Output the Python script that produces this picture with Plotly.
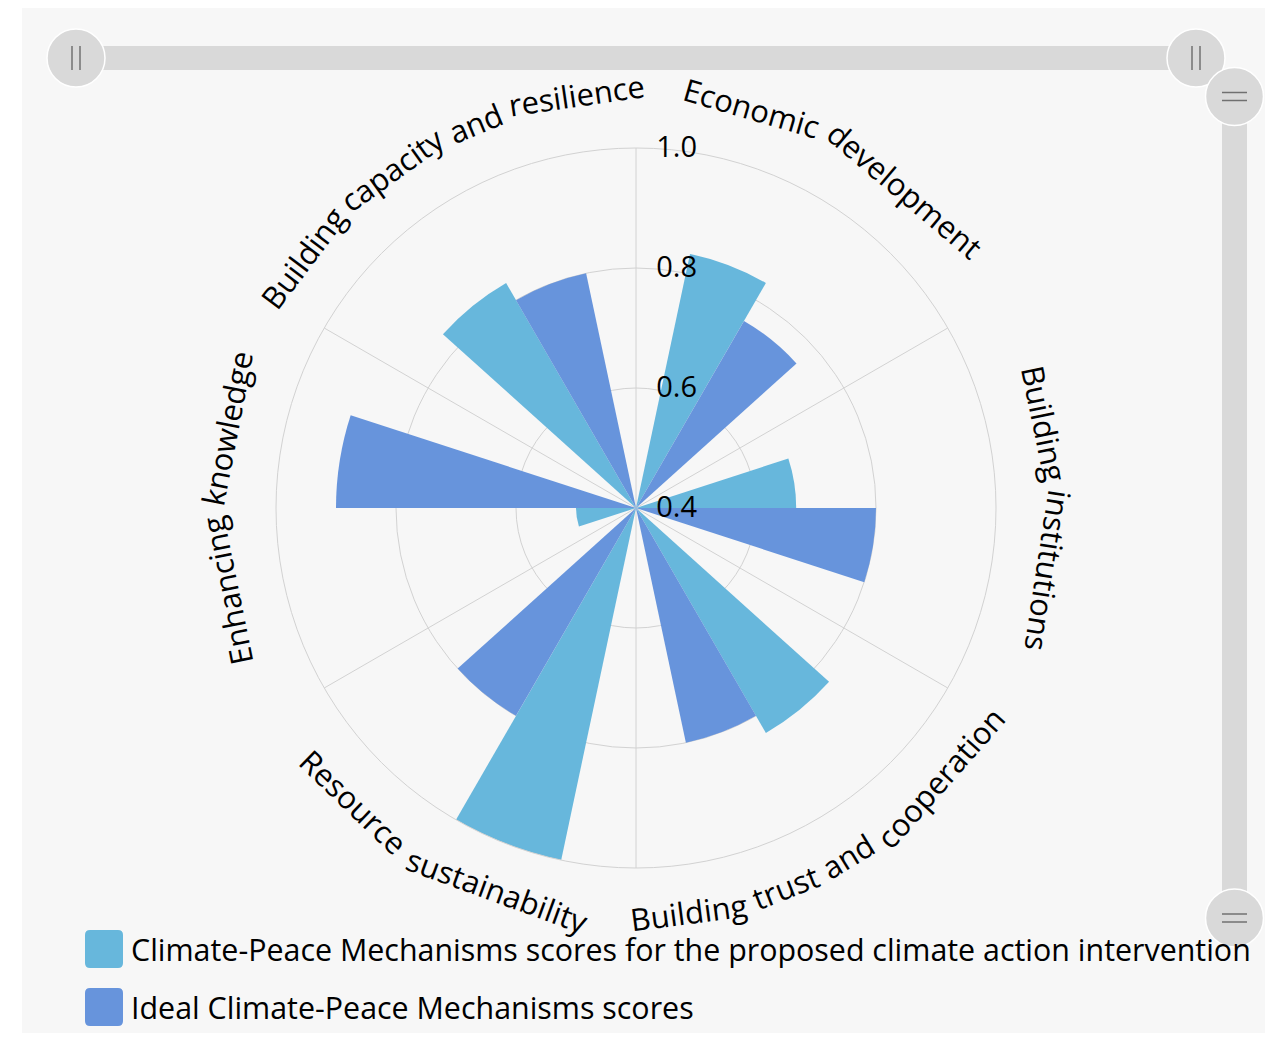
import math
import plotly.graph_objects as go

# ---------------- data ----------------
categories = [
    "Economic development",
    "Building institutions",
    "Building trust and cooperation",
    "Resource sustainability",
    "Enhancing knowledge",
    "Building capacity and resilience",
]
series_names = [
    "Climate-Peace Mechanisms scores for the proposed climate action intervention",
    "Ideal Climate-Peace Mechanisms scores",
]
proposed_scores = [0.833, 0.667, 0.833, 1.0, 0.5, 0.833]
ideal_scores = [0.76, 0.8, 0.8, 0.8, 0.9, 0.8]
radial_tickvals = [0.4, 0.6, 0.8, 1.0]
radial_ticktext = ["0.4", "0.6", "0.8", "1.0"]
series_colors = ["#67b7dc", "#6794dc"]

# ---------------- geometry / style ----------------
FONT = "Open Sans"
TEXT_COLOR = "#000000"
GRID = "#d2d2d2"
PANEL = "#f7f7f7"
SCROLL = "#d9d9d9"
GRIP_LINE = "#707070"

PAGE_OFF = 8
FIG_W, FIG_H = 1257, 1025


def fx(X):
    return (X - PAGE_OFF) / FIG_W


def fy(Y):
    return 1 - (Y - PAGE_OFF) / FIG_H


CX, CY, R = 636, 508, 360

n = len(categories)
sector = 360 / n
cell_start, cell_end = 0.2, 0.8
bar_w = sector * (cell_end - cell_start) / 2


def thetas(k):
    return [i * sector + sector * cell_start + bar_w * (k + 0.5) for i in range(n)]


fig = go.Figure()
for k, (name, vals) in enumerate(zip(series_names, [proposed_scores, ideal_scores])):
    fig.add_trace(go.Barpolar(
        r=vals,
        theta=thetas(k),
        width=[bar_w] * n,
        name=name,
        marker=dict(color=series_colors[k], line=dict(width=0)),
        customdata=categories,
        hovertemplate="%{customdata}<br>%{r}<extra></extra>",
        showlegend=False,
    ))

# ---------------- curved category labels (word by word) ----------------
# Open Sans advance widths (units per em = 2048)
ADV = {
    " ": 532, "a": 1139, "b": 1255, "c": 975, "d": 1255, "e": 1149, "f": 694,
    "g": 1122, "h": 1257, "i": 518, "j": 518, "k": 1075, "l": 518, "m": 1905,
    "n": 1257, "o": 1237, "p": 1255, "q": 1255, "r": 836, "s": 977, "t": 723,
    "u": 1257, "v": 1026, "w": 1593, "x": 1073, "y": 1028, "z": 937,
    "B": 1315, "C": 1298, "E": 1126, "R": 1300, "I": 598, "M": 1849, "P": 1245,
    "-": 659,
}
LABEL_SIZE = 31


def tw(s, size):
    return sum(ADV.get(c, 1150) for c in s) / 2048 * size


annotations = []
TOP_RB, BOT_RB = 405, 419
mid_off = 0.388 * LABEL_SIZE
for i, cat in enumerate(categories):
    c = i * sector + sector / 2
    bottom = 90 < c < 270
    words = cat.split(" ")
    ws = [tw(w, LABEL_SIZE) for w in words]
    sp = tw(" ", LABEL_SIZE)
    total = sum(ws) + sp * (len(words) - 1)
    rb = BOT_RB if bottom else TOP_RB
    rc = rb - mid_off if bottom else rb + mid_off
    ra = rb - 9 if bottom else rb + 9   # radius used to convert lengths to angles
    cum = 0
    for w, wl in zip(words, ws):
        off = cum + wl / 2 - total / 2
        dtheta = math.degrees(off / ra)
        th = c - dtheta if bottom else c + dtheta
        X = CX + rc * math.sin(math.radians(th))
        Y = CY - rc * math.cos(math.radians(th))
        ang = th - 180 if bottom else th
        ang = (ang + 180) % 360 - 180
        annotations.append(dict(
            x=fx(X), y=fy(Y), xref="paper", yref="paper", text=w,
            textangle=ang, showarrow=False, xanchor="center", yanchor="middle",
            font=dict(family=FONT, size=LABEL_SIZE, color=TEXT_COLOR),
        ))
        cum += wl + sp

# ---------------- legend (custom, large swatches) ----------------
shapes = []


def rrect(x0, y0, x1, y1, rad, color):
    p = (f"M {fx(x0 + rad)},{fy(y0)} L {fx(x1 - rad)},{fy(y0)} "
         f"Q {fx(x1)},{fy(y0)} {fx(x1)},{fy(y0 + rad)} L {fx(x1)},{fy(y1 - rad)} "
         f"Q {fx(x1)},{fy(y1)} {fx(x1 - rad)},{fy(y1)} L {fx(x0 + rad)},{fy(y1)} "
         f"Q {fx(x0)},{fy(y1)} {fx(x0)},{fy(y1 - rad)} L {fx(x0)},{fy(y0 + rad)} "
         f"Q {fx(x0)},{fy(y0)} {fx(x0 + rad)},{fy(y0)} Z")
    return dict(type="path", path=p, xref="paper", yref="paper",
                fillcolor=color, line=dict(width=0), layer="above")


# background panel
shapes.append(dict(type="rect", xref="paper", yref="paper", x0=fx(22), x1=fx(1281),
                   y0=fy(4), y1=fy(1049), fillcolor=PANEL, line=dict(width=0), layer="below"))

legend_rows = [949, 1007]
for k, name in enumerate(series_names):
    yc = legend_rows[k]
    shapes.append(rrect(85, yc - 19, 123, yc + 19, 5, series_colors[k]))
    annotations.append(dict(
        x=fx(129), y=fy(yc), xref="paper", yref="paper", text=name,
        showarrow=False, xanchor="left", yanchor="middle",
        font=dict(family=FONT, size=30.4, color=TEXT_COLOR),
    ))

# ---------------- scrollbars (decorative chrome) ----------------


def circle(cx, cy, r):
    return dict(type="circle", xref="paper", yref="paper", x0=fx(cx - r), x1=fx(cx + r),
                y0=fy(cy + r), y1=fy(cy - r), fillcolor=SCROLL,
                line=dict(color="#ffffff", width=1.5), layer="above")


def seg(x0, y0, x1, y1):
    return dict(type="line", xref="paper", yref="paper", x0=fx(x0), x1=fx(x1),
                y0=fy(y0), y1=fy(y1), line=dict(color=GRIP_LINE, width=1.5), layer="above")


shapes.append(dict(type="rect", xref="paper", yref="paper", x0=fx(76), x1=fx(1196),
                   y0=fy(70), y1=fy(46), fillcolor=SCROLL, line=dict(width=0), layer="above"))
for gx in (76, 1196):
    shapes.append(circle(gx, 58, 29))
    shapes.append(seg(gx - 4, 46, gx - 4, 70))
    shapes.append(seg(gx + 4, 46, gx + 4, 70))

shapes.append(dict(type="rect", xref="paper", yref="paper", x0=fx(1222), x1=fx(1247),
                   y0=fy(918), y1=fy(96), fillcolor=SCROLL, line=dict(width=0), layer="above"))
for gy in (96.5, 918):
    shapes.append(circle(1234.5, gy, 29))
    shapes.append(seg(1222, gy - 4, 1247, gy - 4))
    shapes.append(seg(1222, gy + 4, 1247, gy + 4))

fig.update_layout(
    width=FIG_W, height=FIG_H,
    margin=dict(l=0, r=0, t=0, b=0, pad=0),
    paper_bgcolor="#ffffff",
    plot_bgcolor=PANEL,
    showlegend=False,
    font=dict(family=FONT, color=TEXT_COLOR),
    polar=dict(
        domain=dict(x=[fx(CX - R), fx(CX + R)], y=[fy(CY + R), fy(CY - R)]),
        bgcolor="rgba(0,0,0,0)",
        barmode="overlay",
        angularaxis=dict(
            rotation=90, direction="clockwise", thetaunit="degrees",
            tickmode="array", tickvals=[i * sector for i in range(n)],
            showticklabels=False, ticks="",
            showgrid=True, gridcolor=GRID, gridwidth=1,
            showline=True, linecolor=GRID, linewidth=1,
        ),
        radialaxis=dict(
            range=[radial_tickvals[0], radial_tickvals[-1]],
            tickmode="array", tickvals=radial_tickvals, ticktext=radial_ticktext,
            angle=90, tickangle=90, showline=False, showgrid=True, gridcolor=GRID, gridwidth=1,
            ticks="outside", ticklen=14, tickcolor="rgba(0,0,0,0)",
            tickfont=dict(family=FONT, size=29, color=TEXT_COLOR),
            layer="above traces",
        ),
    ),
    shapes=shapes,
    annotations=annotations,
)

fig.write_html("out.html")
